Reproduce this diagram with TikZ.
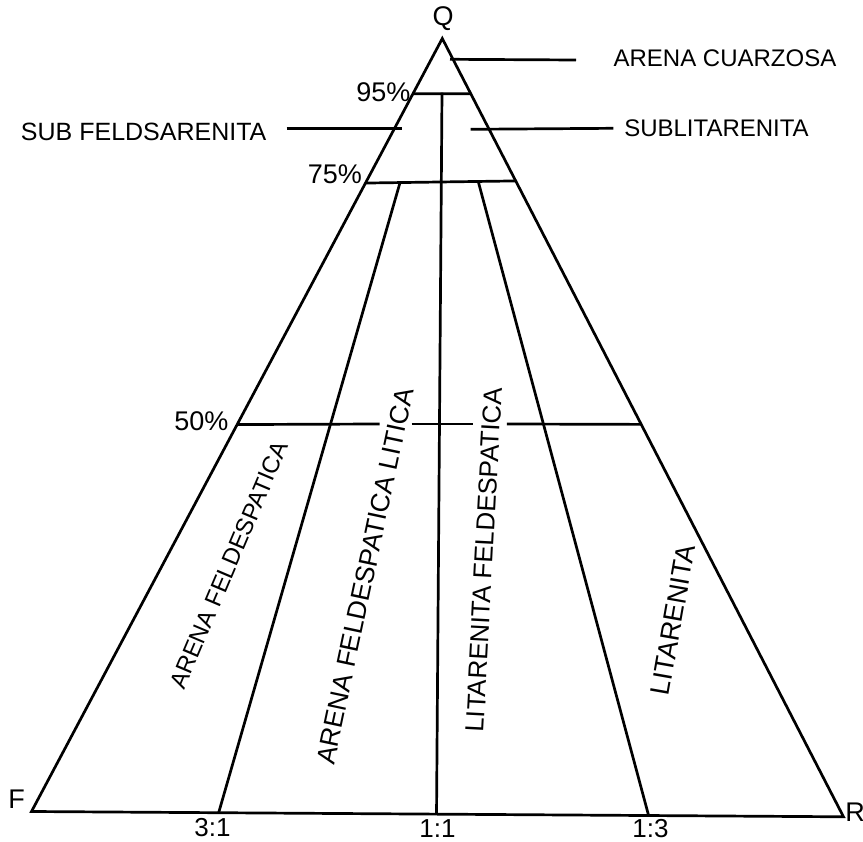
\documentclass[tikz,border=0pt]{standalone}
\usepackage{fontspec}
\setmainfont{Liberation Sans}
\usetikzlibrary{calc}
\begin{document}
\begin{tikzpicture}[x=1pt,y=-1pt,
  edge/.style={line width=2.7pt},
  lbl/.style={font=\fontsize{24}{24}\selectfont, inner sep=0pt},
  big/.style={font=\fontsize{27}{27}\selectfont, inner sep=0pt},
  pct/.style={big, anchor=east}]
\useasboundingbox (0,0) rectangle (863,842);

% corners of the QFR triangle
\coordinate (Q) at (442.3,38.5);
\coordinate (F) at (31.5,811.5);
\coordinate (R) at (843.5,816.8);
\draw[edge, line join=miter] (Q) -- (F) -- (R) -- cycle;

% 95 %, 75 % and 50 % quartz lines
\coordinate (a95l) at ($(Q)!0.0715!(F)$);
\coordinate (a95r) at ($(Q)!0.071!(R)$);
\coordinate (a75l) at ($(Q)!0.187!(F)$);
\coordinate (a75r) at ($(Q)!0.183!(R)$);
\coordinate (a50l) at ($(Q)!0.4994!(F)$);
\coordinate (a50r) at ($(Q)!0.4958!(R)$);
\draw[edge] (a95l) -- (a95r);
\draw[edge] (a75l) -- (a75r);

% 50 % line, interrupted by the two middle labels
\coordinate (g1a) at (379.7,424);
\coordinate (g1b) at (411.5,424);
\coordinate (g2a) at (473.3,424);
\coordinate (g2b) at (506.9,424);
\draw[edge] (a50l) -- (g1a);
\draw[edge] (g1b) -- (g2a);
\draw[edge] (g2b) -- (a50r);

% F:R ratio lines
\coordinate (b31) at ($(F)!0.2305!(R)$);
\coordinate (b11) at ($(F)!0.4988!(R)$);
\coordinate (b13) at ($(F)!0.76!(R)$);
\coordinate (t31) at (400,182.7);
\coordinate (t11) at (442,92.7);
\coordinate (t13) at (478.3,181.7);
\draw[edge] (t31) -- (b31);
\draw[edge] (t11) -- (b11);
\draw[edge] (t13) -- (b13);

% leaders to the upper fields
\coordinate (c1a) at (450,59.3);
\coordinate (c1b) at (576,60);
\coordinate (c2a) at (470.7,129.3);
\coordinate (c2b) at (613.3,128.3);
\coordinate (c3a) at (286.7,128.3);
\coordinate (c3b) at (401.7,128.3);
\draw[edge] (c1a) -- (c1b);
\draw[edge] (c2a) -- (c2b);
\draw[edge] (c3a) -- (c3b);

% vertex labels
\node[big] (lQ) at (443,19) {Q};
\node[big] (lF) at (16.7,799) {F};
\node[big] (lR) at (855,812) {R};

% percentages
\node[pct] (l95) at (410.5,92.5) {95\%};
\node[pct] (l75) at (362,174) {75\%};
\node[pct] (l50) at (228.5,421) {50\%};

% ratios
\node[lbl, font=\fontsize{26}{26}\selectfont] (r31) at (212.5,828) {3:1};
\node[lbl, font=\fontsize{26}{26}\selectfont] (r11) at (437.5,829) {1:1};
\node[lbl, font=\fontsize{26}{26}\selectfont] (r13) at (650.5,829) {1:3};

% field names
\node[lbl] (n1) at (725,58) {ARENA CUARZOSA};
\node[lbl] (n2) at (716.5,128.3) {SUBLITARENITA};
\node[lbl, font=\fontsize{25}{25}\selectfont] (n3) at (143.7,131.5) {SUB FELDSARENITA};
\node[lbl, rotate=67] (n4) at (229,565) {ARENA FELDESPATICA};
\node[lbl, font=\fontsize{26.5}{26.5}\selectfont, rotate=78] (n5) at (365,576) {ARENA FELDESPATICA LITICA};
\node[lbl, font=\fontsize{26}{26}\selectfont, rotate=87] (n6) at (484,560) {LITARENITA FELDESPATICA};
\node[lbl, font=\fontsize{27}{27}\selectfont, rotate=80] (n7) at (673,620) {LITARENITA};
\end{tikzpicture}
\end{document}
